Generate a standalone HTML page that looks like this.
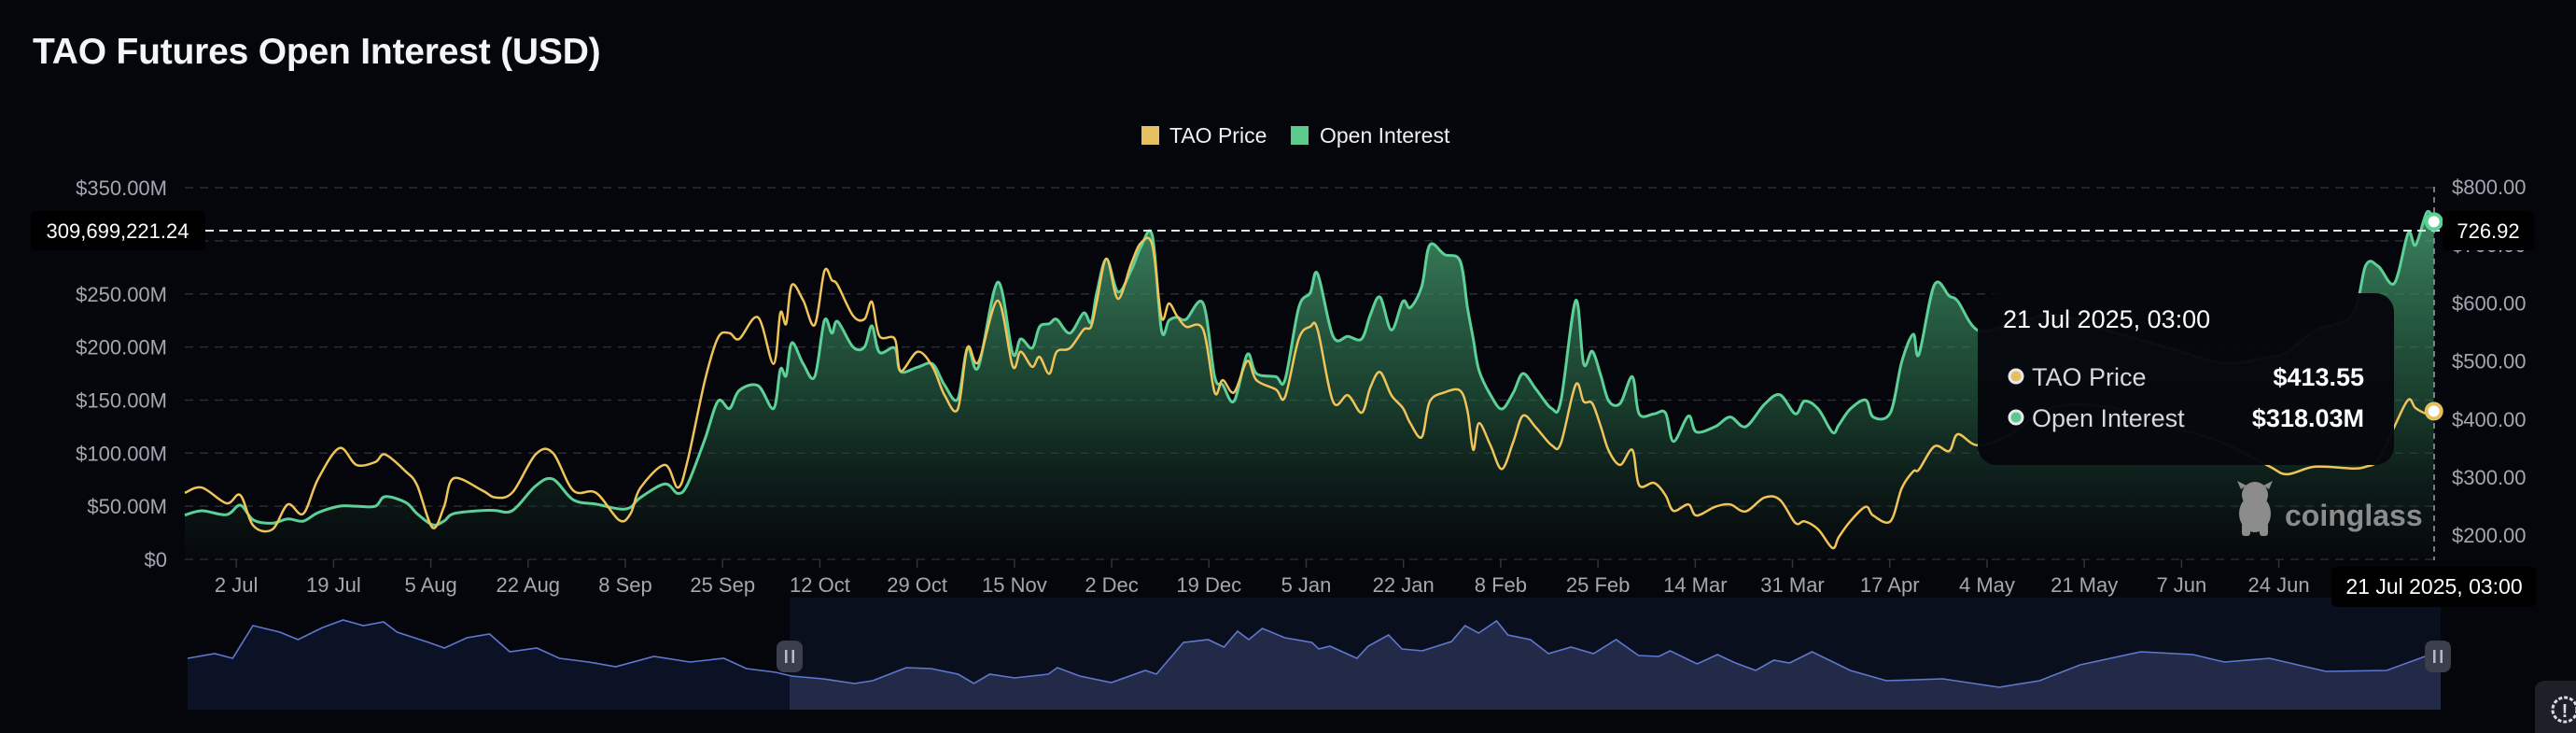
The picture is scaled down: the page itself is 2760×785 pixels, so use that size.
<!DOCTYPE html>
<html><head><meta charset="utf-8"><title>TAO Futures Open Interest</title>
<style>
html,body{margin:0;padding:0;background:#04060c;}
svg{display:block;font-family:"Liberation Sans",sans-serif;}
</style></head>
<body>
<svg id="chart" width="2760" height="785" viewBox="0 0 2760 785" xmlns="http://www.w3.org/2000/svg">
<defs>
<linearGradient id="oiFill" x1="0" y1="0" x2="0" y2="1">
<stop offset="0" stop-color="#4fb07d" stop-opacity="0.75"/>
<stop offset="0.55" stop-color="#2a6a48" stop-opacity="0.55"/>
<stop offset="1" stop-color="#0a0f0d" stop-opacity="0.3"/>
</linearGradient>
<clipPath id="navLeft"><rect x="201" y="630" width="645" height="140"/></clipPath>
<clipPath id="navRight"><rect x="846" y="630" width="1769" height="140"/></clipPath>
</defs>
<rect x="0" y="0" width="2760" height="785" fill="#04060c"/>
<text x="35" y="68" font-size="39" font-weight="bold" fill="#f4f5f7" letter-spacing="-0.2">TAO Futures Open Interest (USD)</text>
<g>
<g><rect x="1223" y="135" width="19" height="20" fill="#e6bf5f"/><text x="1253" y="153" font-size="23" fill="#f0f0f0">TAO Price</text></g>
<g><rect x="1383" y="135" width="19" height="20" fill="#5cc98d"/><text x="1414" y="153" font-size="23" fill="#f0f0f0">Open Interest</text></g>
</g>
<g id="grid"></g>
<g id="leftAxis"></g>
<g id="rightAxis"></g>
<g id="xAxis"></g>
<g id="series"></g>
<g id="nav"></g>
<g fill="#8c8c8c">
<ellipse cx="2416" cy="550" rx="17" ry="20"/><circle cx="2416" cy="530" r="14"/><rect x="2402" y="560" width="9" height="14" rx="3"/><rect x="2421" y="560" width="9" height="14" rx="3"/>
<path d="M2401 524 l-4 -9 l10 5 z M2431 524 l4 -9 l-10 5 z"/>
<text x="2448" y="563" font-size="32" font-weight="bold" fill="#8c8c8c">coinglass</text>
</g>
<line x1="2608" y1="200" x2="2608" y2="600" stroke="#9aa0a8" stroke-width="1.5" stroke-dasharray="6,5"/>
<line x1="220" y1="247" x2="2617" y2="247" stroke="#e8e8e8" stroke-width="2" stroke-dasharray="9,6"/>
<g id="markers"></g>
<g><rect x="33" y="226" width="187" height="42" rx="6" fill="#000"/><text x="126" y="255" font-size="22" fill="#fff" text-anchor="middle">309,699,221.24</text></g>
<g><rect x="2617" y="226" width="98" height="42" rx="6" fill="#000"/><text x="2666" y="255" font-size="22" fill="#fff" text-anchor="middle">726.92</text></g>
<g><rect x="2498" y="607" width="219" height="43" rx="6" fill="#000"/><text x="2608" y="636" font-size="23" fill="#fff" text-anchor="middle">21 Jul 2025, 03:00</text></g>
<g>
<rect x="2119" y="314" width="446" height="184" rx="20" fill="#05070c" fill-opacity="0.97"/>
<text x="2146" y="351" font-size="27" fill="#fff">21 Jul 2025, 03:00</text>
<circle cx="2160" cy="403" r="7" fill="#e6bf5f" stroke="#e8e8ee" stroke-width="3"/>
<text x="2177" y="413" font-size="27" fill="#d6d9e0">TAO Price</text>
<text x="2533" y="413" font-size="27" fill="#fff" font-weight="bold" text-anchor="end">$413.55</text>
<circle cx="2160" cy="447" r="7" fill="#5cc98d" stroke="#e8e8ee" stroke-width="3"/>
<text x="2177" y="457" font-size="27" fill="#d6d9e0">Open Interest</text>
<text x="2533" y="457" font-size="27" fill="#fff" font-weight="bold" text-anchor="end">$318.03M</text>
</g>
<g><rect x="2716" y="729" width="60" height="70" rx="10" fill="#1d2027"/><circle cx="2748" cy="760" r="13" fill="none" stroke="#d8dbe2" stroke-width="3" stroke-dasharray="4,2"/><text x="2748" y="768" font-size="20" font-weight="bold" fill="#d8dbe2" text-anchor="middle">!</text></g>
</svg>
<script>
const days = [0,3,7.3,9.7,12,15.3,18,20.7,23.3,27,30,33.3,35,38.6,40.6,43.3,45.3,47,52,54.3,57.3,61.3,64.3,67.9,71.9,75.9,77.9,79.6,83.9,86.2,87.9,90.9,93.2,95.2,96.9,100.2,102.9,104.1,105.1,106.1,108.1,110.1,111.8,113.1,114.1,116.8,118.8,120.1,121.4,124.1,125.1,128.1,130.7,132.8,135.1,136.8,138.7,142.1,144.7,146.1,148.1,149.4,151.1,152.4,154.7,157.1,158.4,159.4,161.1,163.1,165.4,167.1,169.1,170.7,172,173.4,175,178,180,181.4,183.4,185.7,187.3,190.7,192.3,194.7,196.7,198,200.7,203.3,205.7,207.2,208.9,210.9,212.9,214.2,216.2,217.6,220.2,222.9,224.2,225.2,226.2,228.2,230.2,232.2,233.9,236.2,238.9,240.5,243.1,244.5,246,247.5,248.9,250.9,253,254.2,256.8,258.8,260.2,262.8,264.2,267.5,270.1,272.8,276.1,278.8,281.5,283.1,285.5,288,289.1,291.1,293.8,295.1,298.1,300.1,302.1,303.1,305.8,308.4,309.9,313.3,318.4,326.6,336.4,346.2,356,364.1,367.4,372.3,378.8,381.2,383.4,386.2,388.6,389.9,391.9,393.1];
const openInterestM = [41.6,45.7,42,51,37,34,38,36,44,50,50,50,59,53.6,43,32.5,36,43,46,46,46,69,75.6,56,52,47.5,49,58,71,62,71,113,149,142,159,163.6,142,179,173,204,184,172,225,213,224,200,200,220,195,199,177,181,184,164,151,199,181,261,194,207.6,199,219,222,226,213,232,223,251,283,252,272,294,305,216,225,228,226,241,172,164.5,149,193,175,172,169,237,251,269,210,210,207.6,230,247,216,243,237,257,296,287,281,237,207.6,178,155,141.6,157,175,160,142,149,243.6,184,196,173,149,147,172,137,137,138,111,135,120,125,134,125,146,155,137,149,141.6,119.6,126.6,141.6,150,134,138,186,212,193,258.6,248,243,216,220,230,215,200,185,190,195,215,230,277,276,260,307,296,327,318.03];
const taoPrice = [273,282,255,269,216,210,253,237,297,350,321,326,339,310,286,213,249,298,277,265,274,339,342,277,273,226,237,281,321,282,329,466,540,548,538,575,495,583,564,631,604,562,655,639,631,578,572,602,543,538,483,516,490,441,417,523,498,604,491,516,490,507,478,516,522,554,559,602,676,607,667,703,700,575,599,578,559,554,446,467,446,500,467,451,438,538,559,554,430,441,411,454,481,441,419,393,369,430,446,449,414,347,393,355,314,361,406,385,355,358,459,430,427,387,345,321,347,286,290,269,242,253,234,249,253,241,265,261,221,224,210,178,197,224,249,234,224,281,310,313,353,345,374,355,370,420,420,390,360,320,305,318,315,318,330,387,433,419,409,413.55];
const leftTicks = [0,50,100,150,200,250,300,350];
const leftTickLabels = ["$0","$50.00M","$100.00M","$150.00M","$200.00M","$250.00M","$300.00M","$350.00M"];
const rightTicks = [200,300,400,500,600,700,800];
const rightTickLabels = ["$200.00","$300.00","$400.00","$500.00","$600.00","$700.00","$800.00"];
const xTickDays = [9,26,43,60,77,94,111,128,145,162,179,196,213,230,247,264,281,298,315,332,349,366];
const xTickLabels = ["2 Jul","19 Jul","5 Aug","22 Aug","8 Sep","25 Sep","12 Oct","29 Oct","15 Nov","2 Dec","19 Dec","5 Jan","22 Jan","8 Feb","25 Feb","14 Mar","31 Mar","17 Apr","4 May","21 May","7 Jun","24 Jun"];
const navT = [0,12,20,29,41,49,60,69,78,87,93,107,114,124,134,143,155,165,178,190,207,223,238,248,261,268,282,296,304,319,330,342,349,356,367,382,386,396,410,425,430,442,453,460,466,471,477,487,499,502,507,519,524,533,539,548,561,567,573,581,586,596,604,614,624,634,644,653,658,670,679,687,696,704,711,721,738,754,779,804,822,840,867,890,904,924,949,976,993,1000];
const navValues = [275,300,275,450,415,375,440,480,450,470,415,360,330,385,405,310,330,275,255,230,285,255,275,220,200,180,165,140,155,225,220,190,140,190,170,190,225,180,145,210,190,360,375,335,420,375,435,385,360,325,340,275,340,400,325,315,365,450,410,475,400,375,300,335,300,375,290,285,315,245,295,250,210,265,250,310,210,155,165,120,155,240,310,295,255,275,205,210,285,290];

const NS="http://www.w3.org/2000/svg";
const X0=198, DX=6.13;
function xScale(d){return X0+d*DX;}
function yLeft(v){return 599-v*1.137;}
function yRight(v){return 200+(800-v)*0.622;}
function navX(t){return 201+t*2.414;}
function navY(v){return 760-v/5;}
function mk(tag,attrs,parent){const e=document.createElementNS(NS,tag);for(const k in attrs)e.setAttribute(k,attrs[k]);parent.appendChild(e);return e;}
function smooth(pts){
  let d="M"+pts[0][0].toFixed(1)+" "+pts[0][1].toFixed(1);
  for(let i=0;i<pts.length-1;i++){
    const p0=pts[Math.max(0,i-1)],p1=pts[i],p2=pts[i+1],p3=pts[Math.min(pts.length-1,i+2)];
    const c1x=p1[0]+(p2[0]-p0[0])/6,c1y=p1[1]+(p2[1]-p0[1])/6;
    const c2x=p2[0]-(p3[0]-p1[0])/6,c2y=p2[1]-(p3[1]-p1[1])/6;
    d+=" C"+c1x.toFixed(1)+" "+c1y.toFixed(1)+" "+c2x.toFixed(1)+" "+c2y.toFixed(1)+" "+p2[0].toFixed(1)+" "+p2[1].toFixed(1);
  }
  return d;
}
const grid=document.getElementById('grid');
const la=document.getElementById('leftAxis');
const ra=document.getElementById('rightAxis');
const xa=document.getElementById('xAxis');
leftTicks.forEach((v,i)=>{
  const y=yLeft(v);
  const gl=mk('line',{x1:198,x2:2612,y1:y,y2:y,stroke:'#2b2e36','stroke-width':1.5,'stroke-dasharray':'9,7'},grid);
  
  
  const t=mk('text',{x:179,y:y+8,'font-size':22,fill:'#a3a7b0','text-anchor':'end'},la);
  t.textContent=leftTickLabels[i];
  
  
});
rightTicks.forEach((v,i)=>{
  const t=mk('text',{x:2627,y:yRight(v)+8,'font-size':22,fill:'#a3a7b0'},ra);
  t.textContent=rightTickLabels[i];
  
  
});
xTickDays.forEach((d,i)=>{
  const x=xScale(d);
  const tk=mk('line',{x1:x,x2:x,y1:599,y2:608,stroke:'#30333b','stroke-width':1.5},xa);
  
  
  const t=mk('text',{x:x,y:634,'font-size':22,fill:'#a3a7b0','text-anchor':'middle'},xa);
  t.textContent=xTickLabels[i];
  
  
});
const series=document.getElementById('series');
const oiPts=days.map((d,i)=>[xScale(d),yLeft(openInterestM[i])]);
const prPts=days.map((d,i)=>[xScale(d),yRight(taoPrice[i])]);
const oiLine=smooth(oiPts);
const area=mk('path',{d:oiLine+" L"+oiPts[oiPts.length-1][0].toFixed(1)+" 599 L"+oiPts[0][0].toFixed(1)+" 599 Z",fill:'url(#oiFill)'},series);


const ol=mk('path',{d:oiLine,fill:'none',stroke:'#5cd096','stroke-width':3},series);


const pl=mk('path',{d:smooth(prPts),fill:'none',stroke:'#f0c459','stroke-width':2.5},series);


const mg=document.getElementById('markers');
const lastI=days.length-1;
const m1=mk('circle',{cx:xScale(days[lastI]),cy:yLeft(openInterestM[lastI]),r:8,fill:'#fff',stroke:'#5cd096','stroke-width':4},mg);


const m2=mk('circle',{cx:xScale(days[lastI]),cy:yRight(taoPrice[lastI]),r:8,fill:'#fff',stroke:'#e6bf5f','stroke-width':4},mg);


const nav=document.getElementById('nav');
const bgSel=mk('rect',{x:846,y:640,width:1769,height:120,fill:'#0a0f1e'},nav);


const nPts=navT.map((t,i)=>[navX(t),navY(navValues[i])]);
let nd="M"+nPts.map(p=>p[0].toFixed(1)+" "+p[1].toFixed(1)).join(" L");
const nArea=nd+" L2615 760 L201 760 Z";
const a1=mk('path',{d:nArea,fill:'#0c1226','clip-path':'url(#navLeft)'},nav);


const a2=mk('path',{d:nArea,fill:'#232a47','clip-path':'url(#navRight)'},nav);


const nl=mk('path',{d:nd,fill:'none',stroke:'#5e78d0','stroke-width':1.6},nav);


[846,2612].forEach(hx=>{
  const g=mk('g',{},nav);
  
  
  mk('rect',{x:hx-14,y:686,width:28,height:34,rx:8,fill:'#3b3f4d'},g);
  mk('rect',{x:hx-5,y:696,width:2.5,height:14,fill:'#b8bcc8'},g);
  mk('rect',{x:hx+2.5,y:696,width:2.5,height:14,fill:'#b8bcc8'},g);
});
</script>
</body></html>
